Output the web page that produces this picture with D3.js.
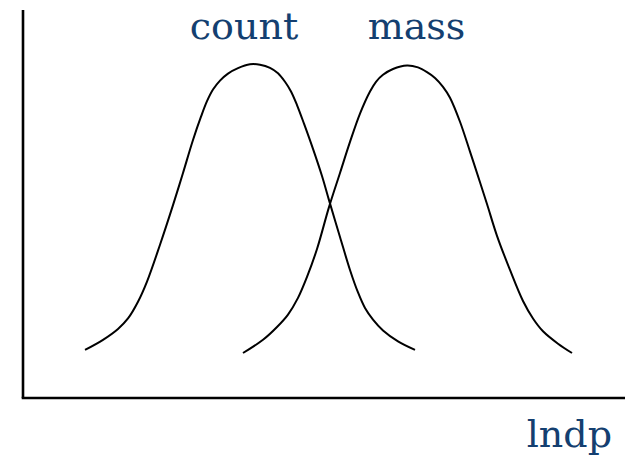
<!DOCTYPE html>
<html>
<head>
<meta charset="utf-8">
<script src="https://cdn.jsdelivr.net/npm/d3@7/dist/d3.min.js"></script>
<style>
  html, body { margin: 0; padding: 0; background: #fff; }
  svg { display: block; }
</style>
</head>
<body>
<script>
// Particle size distribution sketch: number (count) vs mass weighting over ln(dp)
const countX = [1.24, 1.60, 1.90, 2.10, 2.30, 2.48, 2.74, 3.00, 3.20, 3.40, 3.56, 3.68, 3.80, 3.94,
                4.10, 4.30, 4.54, 4.74, 4.94, 5.10, 5.24, 5.36, 5.48, 5.62, 5.80, 5.98, 6.12,
                6.34, 6.54, 6.70, 6.84, 7.00, 7.20, 7.50, 7.84];
const countY = [0.124, 0.150, 0.178, 0.205, 0.248, 0.300, 0.395, 0.497, 0.580, 0.665, 0.725, 0.765, 0.795, 0.818,
                0.836, 0.850, 0.860, 0.859, 0.851, 0.837, 0.815, 0.790, 0.755, 0.707, 0.642, 0.572, 0.510,
                0.415, 0.330, 0.272, 0.232, 0.202, 0.174, 0.146, 0.124];

const massX = [4.40, 4.80, 5.08, 5.30, 5.50, 5.68, 5.88, 6.12, 6.34, 6.54, 6.74, 6.94, 7.06, 7.20,
               7.40, 7.68, 7.90, 8.08, 8.24, 8.40, 8.54, 8.74, 8.94, 9.14, 9.28, 9.48, 9.74,
               10.00, 10.20, 10.40, 10.70, 10.98];
const massY = [0.116, 0.150, 0.183, 0.215, 0.258, 0.312, 0.384, 0.492, 0.580, 0.660, 0.733, 0.790, 0.815, 0.833,
               0.848, 0.857, 0.852, 0.840, 0.825, 0.802, 0.774, 0.712, 0.635, 0.556, 0.500, 0.418, 0.330,
               0.250, 0.205, 0.172, 0.140, 0.116];

const seriesNames = ["count", "mass"];
const axisLabel = "lndp";

const W = 625, H = 456;
const origin = { x: 23, y: 398 };

const svg = d3.select("body").append("svg").attr("width", W).attr("height", H);

const x = d3.scaleLinear().domain([0, 12]).range([origin.x, origin.x + 600]);
const y = d3.scaleLinear().domain([0, 1]).range([origin.y, origin.y - 388]);

// axes drawn as plain lines (no ticks)
svg.append("line")
  .attr("x1", x(0)).attr("y1", y(0))
  .attr("x2", x(0)).attr("y2", y(1))
  .attr("stroke", "#000").attr("stroke-width", 2.6);
svg.append("line")
  .attr("x1", x(0) - 1.3).attr("y1", y(0))
  .attr("x2", W).attr("y2", y(0))
  .attr("stroke", "#000").attr("stroke-width", 2.6);

const line = d3.line()
  .x(d => x(d[0]))
  .y(d => y(d[1]))
  .curve(d3.curveCatmullRom.alpha(0.5));

const series = [
  d3.zip(countX, countY),
  d3.zip(massX, massY)
];

svg.selectAll("path.curve")
  .data(series)
  .join("path")
  .attr("class", "curve")
  .attr("d", line)
  .attr("fill", "none")
  .attr("stroke", "#000")
  .attr("stroke-width", 2)
  .attr("stroke-linejoin", "round")
  .attr("stroke-linecap", "butt");

const textColor = "#143f70";
const font = "'DejaVu Serif', serif";

// series labels centred over each peak
const labelPos = [244, 416.5];
svg.selectAll("text.series")
  .data(seriesNames)
  .join("text")
  .attr("class", "series")
  .attr("x", (d, i) => labelPos[i])
  .attr("y", 39)
  .attr("text-anchor", "middle")
  .attr("font-family", font)
  .attr("font-size", 38)
  .attr("fill", textColor)
  .text(d => d);

svg.append("text")
  .attr("x", 612)
  .attr("y", 447)
  .attr("text-anchor", "end")
  .attr("font-family", font)
  .attr("font-size", 38)
  .attr("fill", textColor)
  .text(axisLabel);
</script>
</body>
</html>
